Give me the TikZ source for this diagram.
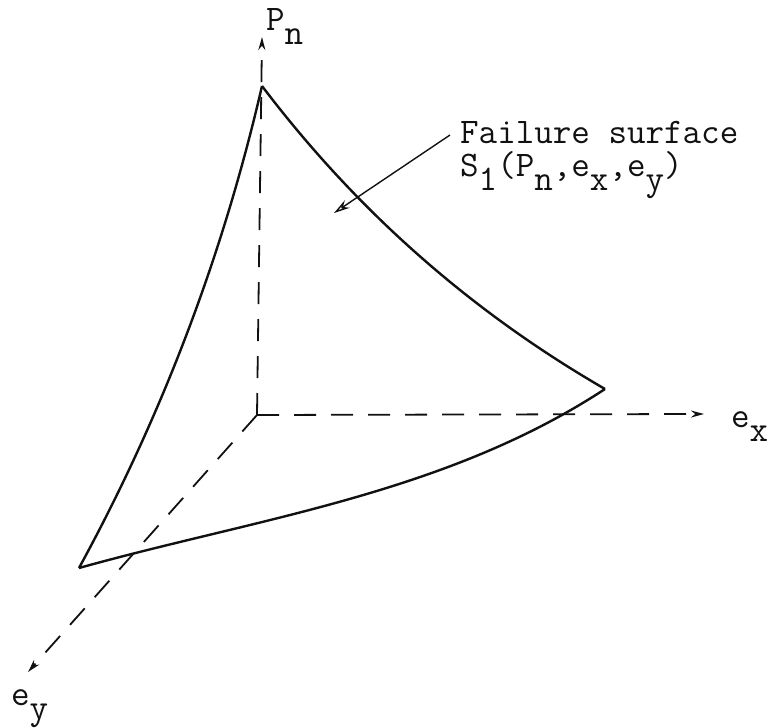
\documentclass[tikz,border=0pt]{standalone}
\usepackage{tikz}
\usetikzlibrary{positioning,arrows.meta}
\definecolor{ink}{HTML}{111111}
\newcommand\lowsub[1]{\raisebox{-14pt}{#1}}

\begin{document}
\begin{tikzpicture}[x=1pt,y=-1pt,
  font=\fontsize{36}{33}\selectfont\ttfamily,
  axis/.style={draw=ink,line width=1.8pt,dash pattern=on 22pt off 15pt,-{Stealth[length=13pt,width=7pt]}},
  edge/.style={draw=ink,line width=2.4pt,line join=round},
  leader/.style={draw=ink,line width=1.4pt,-{Stealth[length=16pt,width=9pt,open]}},
  lbl/.style={inner sep=0pt,text=ink}]
  \useasboundingbox (0,0) rectangle (774,728);
  % axes
  \coordinate (O) at (257,415);
  \coordinate (Ptip) at (262,37);
  \coordinate (Xtip) at (704,414);
  \coordinate (Ytip) at (28,672);
  \draw[axis] (O) -- (Ptip);
  \draw[axis] (O) -- (Xtip);
  \draw[axis] (O) -- (Ytip);
  \node[lbl,anchor=base west] (Pn) at (266,30) {P\lowsub{n}};
  \node[lbl,anchor=base west] (ex) at (731,427) {e\lowsub{x}};
  \node[lbl,anchor=base west] (ey) at (11,705) {e\lowsub{y}};
  % failure surface
  \coordinate (T) at (262,86);
  \coordinate (R) at (605,389);
  \coordinate (L) at (79,568);
  \draw[edge] (T) .. controls (223,255) and (162,416) .. (L);
  \draw[edge] (T) .. controls (356,210) and (470,311) .. (R);
  \draw[edge] (L) .. controls (258,518) and (445,494) .. (R);
  % label
  \node[lbl,anchor=north west,align=left] (fs) at (460,121)
    {Failure surface\\S\lowsub{1}(P\lowsub{n},e\lowsub{x},e\lowsub{y})};
  \coordinate (ptr) at (334,213);
  \draw[leader] ([shift={(-10,14)}]fs.north west) -- (ptr);
\end{tikzpicture}
\end{document}
